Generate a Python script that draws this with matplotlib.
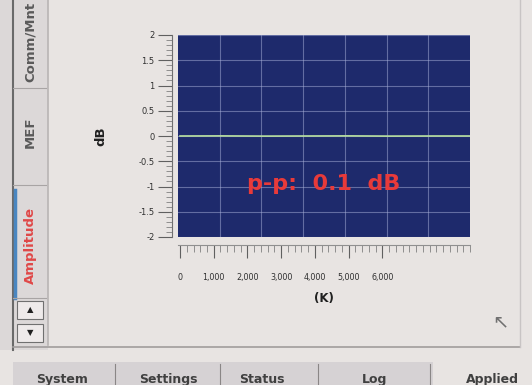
import matplotlib
matplotlib.use("Agg")
import matplotlib.pyplot as plt
from matplotlib.patches import Rectangle
from matplotlib.lines import Line2D
from matplotlib.ticker import MultipleLocator, AutoMinorLocator

# ---- data ----
y_ticks = [2, 1.5, 1, 0.5, 0, -0.5, -1, -1.5, -2]
y_tick_labels = ["2", "1.5", "1", "0.5", "0", "-0.5", "-1", "-1.5", "-2"]
x_ticks = [0, 1000, 2000, 3000, 4000, 5000, 6000]
x_tick_labels = ["0", "1,000", "2,000", "3,000", "4,000", "5,000", "6,000"]
trace_x = [0, 1200, 2500, 3700, 5000, 6200, 7500, 8600]
trace_y = [0.0, 0.002, -0.002, 0.0, 0.002, -0.002, 0.0, 0.0]
annotation = "p-p:  0.1  dB"
tabs_side = ["Comm/Mnt", "MEF", "Amplitude"]
tabs_bottom = ["System", "Settings", "Status", "Log", "Applied"]

W, H = 532, 385
fig = plt.figure(figsize=(W / 100, H / 100), dpi=100)
fig.patch.set_facecolor("#e8e4e2")

def fx(px):
    return px / W

def fy(py):
    return 1 - py / H

# ---- UI chrome ----
fig.add_artist(Rectangle((0, fy(350)), fx(48), fy(0) - fy(350), transform=fig.transFigure,
                         facecolor="#dcd8d8", edgecolor="none"))
fig.add_artist(Line2D([fx(13), fx(13)], [fy(0), fy(350)], transform=fig.transFigure,
                      color="#6a6a6a", lw=1.5))
fig.add_artist(Line2D([fx(48), fx(48)], [fy(0), fy(345)], transform=fig.transFigure,
                      color="#b8b4b4", lw=1.2))
fig.add_artist(Line2D([fx(15), fx(15)], [fy(190), fy(298)], transform=fig.transFigure,
                      color="#4a86c0", lw=2.5))
for yy in [88, 185, 298]:
    fig.add_artist(Line2D([fx(13), fx(46)], [fy(yy), fy(yy)], transform=fig.transFigure,
                          color="#a8a4a4", lw=0.8))
side_pos = [42, 132, 245]
side_col = ["#5a5a5a", "#5a5a5a", "#e04848"]
for t, p, c in zip(tabs_side, side_pos, side_col):
    fig.text(fx(30), fy(p), t, rotation=90, ha="center", va="center", fontsize=9.5,
             color=c, fontweight="bold")
for yy, up in [(310, True), (333, False)]:
    fig.add_artist(Rectangle((fx(17), fy(yy + 9)), fx(26), fy(yy - 9) - fy(yy + 9),
                             transform=fig.transFigure, facecolor="#eeeaea",
                             edgecolor="#707070", lw=0.8))
    fig.text(fx(30), fy(yy), "▲" if up else "▼", ha="center", va="center",
             fontsize=6, color="#202020")

fig.add_artist(Line2D([fx(13), fx(520)], [fy(347), fy(347)], transform=fig.transFigure,
                      color="#a09c9c", lw=1.2))
fig.add_artist(Line2D([fx(520), fx(520)], [fy(0), fy(347)], transform=fig.transFigure,
                      color="#c8c4c4", lw=1.0))
fig.add_artist(Rectangle((fx(13), 0), fx(420), fy(362), transform=fig.transFigure,
                         facecolor="#d6d2d4", edgecolor="none"))
bot_pos = [62, 168, 262, 375, 492]
for t, p in zip(tabs_bottom, bot_pos):
    fig.text(fx(p), fy(383), t, ha="center", va="baseline", fontsize=9, color="#404040",
             fontweight="bold")
for xx in [115, 220, 318, 430]:
    fig.add_artist(Line2D([fx(xx), fx(xx)], [fy(364), fy(385)], transform=fig.transFigure,
                          color="#8a8686", lw=0.8))

fig.text(fx(500), fy(322), "↖", ha="center", va="center", fontsize=14, color="#707070")

# ---- plot ----
ax = fig.add_axes([fx(178), fy(237), fx(470) - fx(178), fy(35) - fy(237)])
ax.set_facecolor("#1e2a6c")
ax.set_xlim(-60, 8600)
ax.set_ylim(-2, 2)

for i in range(1, 7):
    ax.axvline(-60 + i * (8660 / 7), color="#a8b0d8", lw=0.8, alpha=0.5)
for v in y_ticks:
    ax.axhline(v, color="#a8b0d8", lw=0.8, alpha=0.5)

ax.plot(trace_x, trace_y, color="#b8e0a0", lw=1.2)

ax.text(0.5, 0.26, annotation, transform=ax.transAxes, ha="center", va="center",
        fontsize=16, color="#e83a3a", fontweight="bold")

ax.set_yticks(y_ticks)
ax.set_yticklabels(y_tick_labels)
ax.yaxis.set_minor_locator(AutoMinorLocator(5))
ax.set_xticks(x_ticks)
ax.set_xticklabels(x_tick_labels)
ax.xaxis.set_minor_locator(MultipleLocator(200))

for s in ["top", "right"]:
    ax.spines[s].set_visible(False)
ax.spines["left"].set_position(("outward", 4))
ax.spines["bottom"].set_position(("outward", 6))
ax.spines["left"].set_color("#707070")
ax.spines["bottom"].set_color("#909090")
ax.tick_params(axis="y", which="major", length=10, width=0.8, color="#606060", pad=3,
               labelsize=6, labelcolor="#303030")
ax.tick_params(axis="y", which="minor", length=4, width=0.6, color="#808080")
ax.tick_params(axis="x", which="major", length=9, width=0.8, color="#606060", pad=11,
               labelsize=5.8, labelcolor="#303030")
ax.tick_params(axis="x", which="minor", length=5, width=0.6, color="#808080")

ax.set_ylabel("dB", fontsize=9.5, fontweight="bold", color="#202020", labelpad=22)
ax.set_xlabel("(K)", fontsize=8.5, fontweight="bold", color="#202020", labelpad=7)

fig.savefig("out.png", dpi=100, facecolor=fig.get_facecolor())
